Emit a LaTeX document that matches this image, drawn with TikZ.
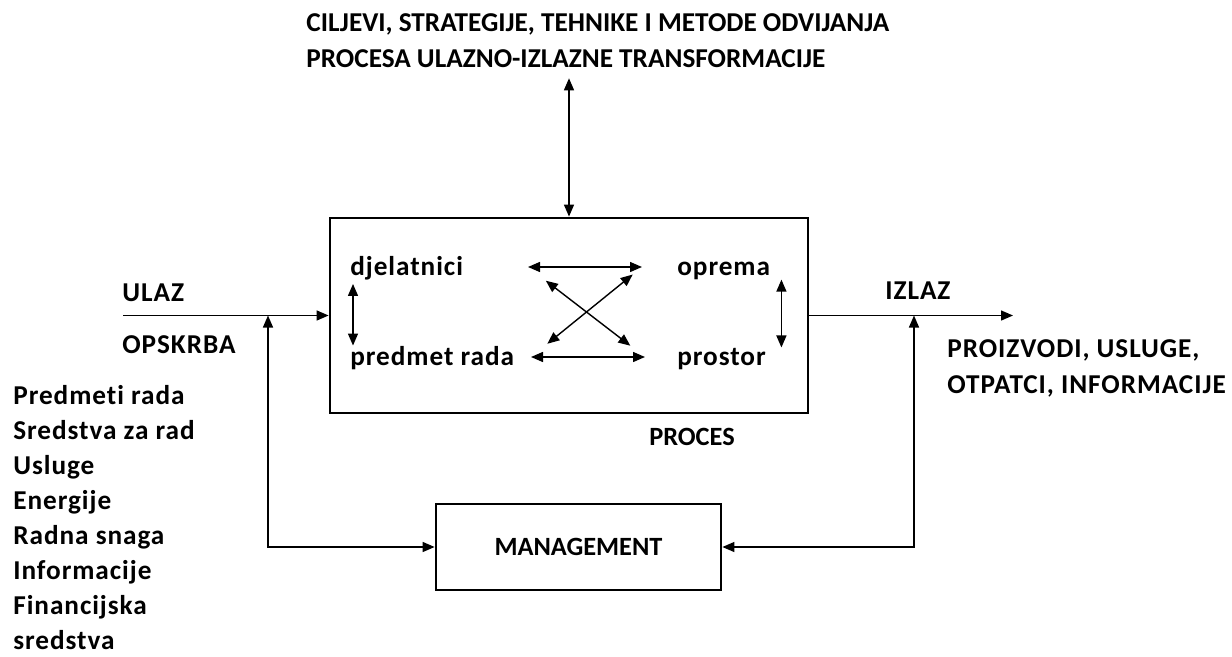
\documentclass[tikz,border=0pt]{standalone}
\usepackage{fontspec}
\setmainfont{Carlito}[Ligatures=NoCommon]
\usetikzlibrary{positioning}
\usetikzlibrary{arrows.meta}

\begin{document}
\begin{tikzpicture}[
	oznaka/.style={inner sep=0pt, align=left, font=\fontsize{15.5}{20.5}\selectfont\bfseries\addfontfeatures{LetterSpace=3.5}},
	okvir/.style={draw=black, line width=1.6pt, inner sep=0pt, font=\fontsize{15}{18}\selectfont\bfseries},
	veza/.style={line width=0.8pt, >={Triangle[length=0.24cm,width=0.2cm]}}]
	\useasboundingbox (0,0) rectangle (24.64,13.12);
	% okviri
	\node[okvir, minimum width=9.56cm, minimum height=3.9cm](proces) at (11.38,6.81){};
	\node[okvir, minimum width=5.7cm, minimum height=1.72cm](mgmt) at (11.57,2.18){MANAGEMENT};
	% tekstovi
	\node[oznaka, anchor=north west, font=\fontsize{15.5}{20.5}\selectfont\bfseries](cilj) at (6.12,12.85){CILJEVI, STRATEGIJE, TEHNIKE I METODE ODVIJANJA\\PROCESA ULAZNO-IZLAZNE TRANSFORMACIJE};
	\node[oznaka, anchor=base west](djelatnici) at (7.0,7.62){djelatnici};
	\node[oznaka, anchor=base west](oprema)     at (13.54,7.62){oprema};
	\node[oznaka, anchor=base west](predmet)    at (7.0,5.82){predmet rada};
	\node[oznaka, anchor=base west](prostor)    at (13.54,5.82){prostor};
	\node[oznaka, font=\fontsize{15}{18}\selectfont\bfseries](procesTxt) at (13.84,4.38){PROCES};
	\node[oznaka, anchor=west](ulaz)     at (2.44,7.26){ULAZ};
	\node[oznaka, anchor=west](opskrba)  at (2.44,6.22){OPSKRBA};
	\node[oznaka, anchor=west](izlaz)    at (17.7,7.3){IZLAZ};
	\node[oznaka, anchor=north west](proizvodi) at (18.94,6.33){PROIZVODI, USLUGE,\\OTPATCI, INFORMACIJE};
	\node[oznaka, anchor=north west, font=\fontsize{15.5}{19.9}\selectfont\bfseries\addfontfeatures{LetterSpace=3.5}](resursi) at (0.26,5.42){Predmeti rada\\Sredstva za rad\\Usluge\\Energije\\Radna snaga\\Informacije\\Financijska\\sredstva};
	% tocke na ulazu i izlazu
	\coordinate (ulazPoc)  at (2.46,6.81);
	\coordinate (ulazSp)   at (5.36,6.81);
	\coordinate (izlazKr)  at (20.26,6.81);
	\coordinate (izlazSp)  at (18.28,6.81);
	\coordinate (djD) at (10.56,7.78);
	\coordinate (opL) at (12.84,7.78);
	\coordinate (prD) at (10.62,5.98);
	\coordinate (psL) at (12.90,5.98);
	% veze
	\draw [veza, <->, shorten >=0.2cm] (proces.north) -- (proces.north |- cilj.south);
	\draw [veza, ->] (ulazPoc) -- (proces.west);
	\draw [veza, ->] (proces.east) -- (izlazKr);
	\draw [veza, <->] (mgmt.west) -| (ulazSp);
	\draw [veza, <->] (mgmt.east) -| (izlazSp);
	\draw [veza, <->] (djD) -- (opL);
	\draw [veza, <->] (prD) -- (psL);
	\draw [veza, <->, shorten <=0.45cm, shorten >=0.37cm] (djD) -- (psL);
	\draw [veza, <->, shorten <=0.24cm, shorten >=0.42cm] (opL) -- (prD);
	\draw [veza, <->, shorten <=0.08cm] ([xshift=0.06cm]djelatnici.south west) -- ([xshift=0.06cm]djelatnici.south west |- predmet.north);
	\draw [veza, <->] ([xshift=0.22cm]oprema.south east) -- ([xshift=0.22cm]oprema.south east |- prostor.north);
\end{tikzpicture}
\end{document}
